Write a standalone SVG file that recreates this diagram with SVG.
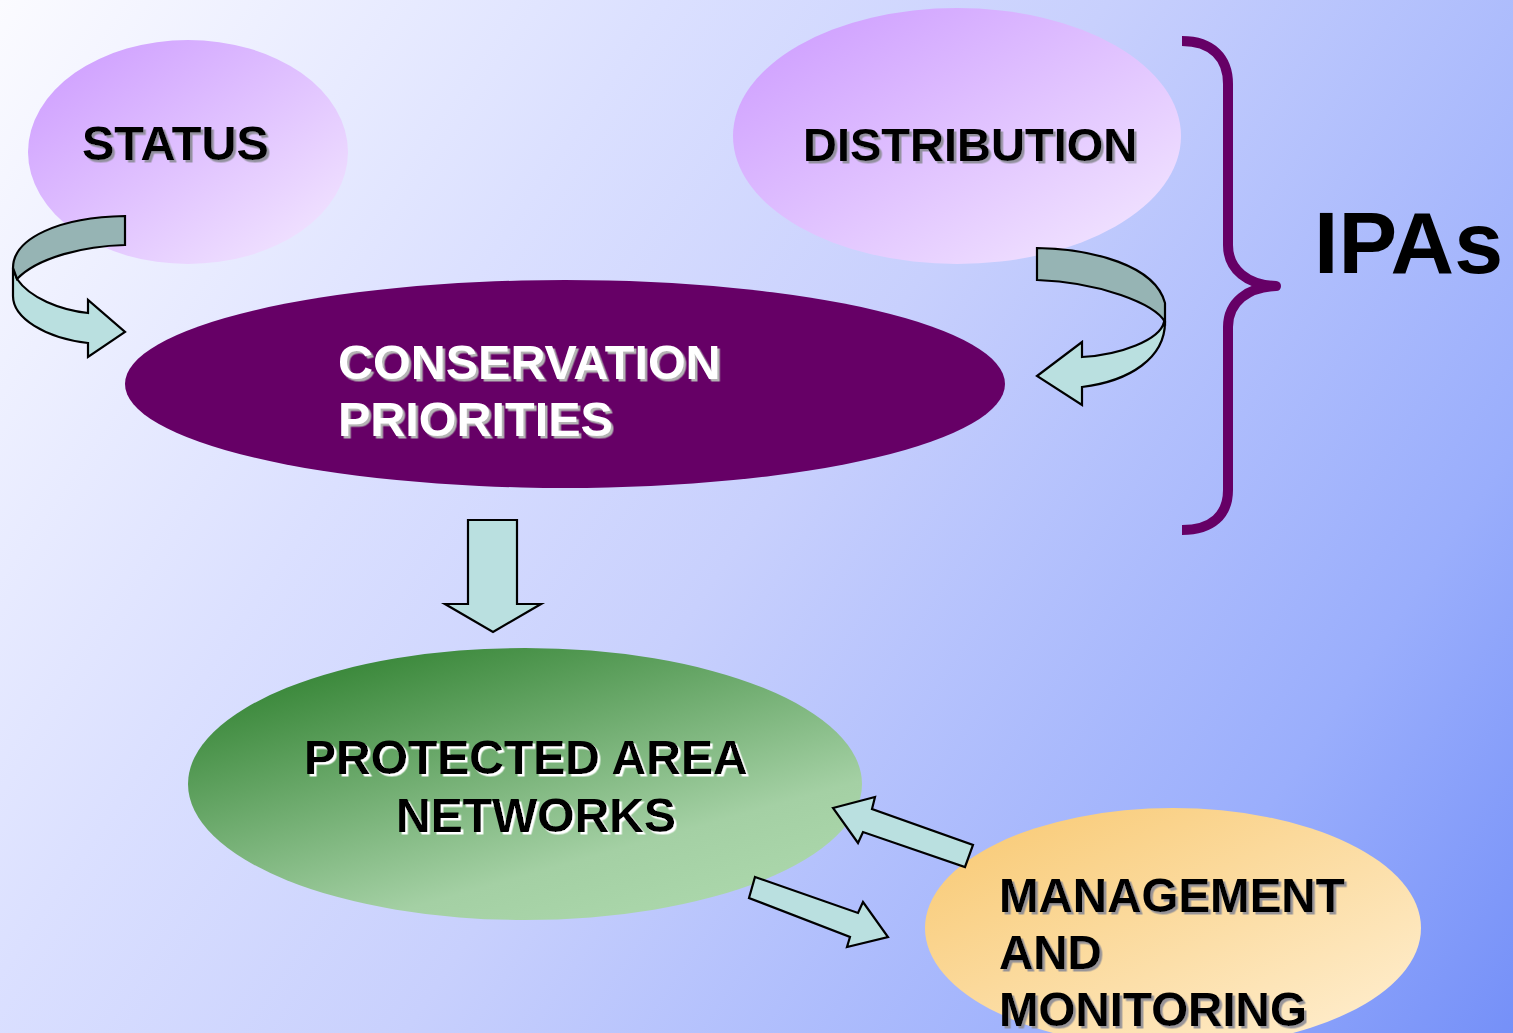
<svg xmlns="http://www.w3.org/2000/svg" width="1513" height="1033" viewBox="0 0 1513 1033">
<defs>
<linearGradient id="bg" gradientUnits="userSpaceOnUse" x1="0" y1="0" x2="1513" y2="1033">
<stop offset="0" stop-color="#fbfbff"/>
<stop offset="0.3" stop-color="#dbe0ff"/>
<stop offset="0.5" stop-color="#c8d0fd"/>
<stop offset="0.82" stop-color="#9aaefc"/>
<stop offset="1" stop-color="#7590f8"/>
</linearGradient>
<linearGradient id="lilac" x1="0" y1="0" x2="1" y2="1">
<stop offset="0" stop-color="#cc99ff"/>
<stop offset="1" stop-color="#f4eaff"/>
</linearGradient>
<linearGradient id="green" x1="0.1" y1="0" x2="0.8" y2="1">
<stop offset="0" stop-color="#2a7d2a"/>
<stop offset="0.75" stop-color="#a4d0a4"/>
<stop offset="1" stop-color="#acd8ac"/>
</linearGradient>
<linearGradient id="orange" x1="0" y1="0" x2="1" y2="1">
<stop offset="0" stop-color="#f8c870"/>
<stop offset="1" stop-color="#fff0d4"/>
</linearGradient>
<filter id="shGray" x="-5%" y="-20%" width="115%" height="150%">
<feDropShadow dx="2.5" dy="2.5" stdDeviation="0.3" flood-color="#8c8c96" flood-opacity="0.9"/>
</filter>
<filter id="shLight" x="-5%" y="-20%" width="115%" height="150%">
<feDropShadow dx="2.5" dy="2.5" stdDeviation="0.3" flood-color="#b4b4b4" flood-opacity="1"/>
</filter>
<filter id="shWhite" x="-5%" y="-20%" width="115%" height="150%">
<feDropShadow dx="2.5" dy="2.5" stdDeviation="0.3" flood-color="#ffffff" flood-opacity="1"/>
</filter>
<style>
.t{font-family:"Liberation Sans",Arial,sans-serif;font-weight:bold;font-size:47px;}
.blk{fill:#000;filter:url(#shGray);}
.wht{fill:#fff;filter:url(#shLight);}
.grn{fill:#000;filter:url(#shWhite);}
.arr{stroke:#000;stroke-width:2.2;stroke-linejoin:miter;}
.lt{fill:#bae0e0;}
.dk{fill:#96b4b4;}
</style>
</defs>
<rect x="0" y="0" width="1513" height="1033" fill="url(#bg)"/>

<g id="status">
<ellipse cx="188" cy="152" rx="160" ry="112" fill="url(#lilac)"/>
<text class="t blk" x="82" y="160" style="font-size:48.5px">STATUS</text>
</g>

<g id="distribution">
<ellipse cx="957" cy="136" rx="224" ry="128" fill="url(#lilac)"/>
<text class="t blk" x="803" y="161">DISTRIBUTION</text>
</g>

<g id="conservation">
<ellipse cx="565" cy="384" rx="440" ry="104" fill="#660066"/>
<text class="t wht" x="338" y="379" style="font-size:48.5px">CONSERVATION</text>
<text class="t wht" x="338" y="436" style="font-size:48.5px">PRIORITIES</text>
</g>

<g id="protected">
<ellipse cx="525" cy="784" rx="337" ry="136" fill="url(#green)"/>
<text class="t grn" x="304" y="774" style="font-size:48px">PROTECTED AREA</text>
<text class="t grn" x="396" y="832" style="font-size:48px">NETWORKS</text>
</g>

<g id="management">
<ellipse cx="1173" cy="928" rx="248" ry="120" fill="url(#orange)"/>
<text class="t blk" x="999" y="912" style="font-size:47.5px">MANAGEMENT</text>
<text class="t blk" x="999" y="969" style="font-size:47.5px">AND</text>
<text class="t blk" x="999" y="1026" style="font-size:47.5px">MONITORING</text>
</g>

<g id="ipas">
<path d="M1182,41 C1212,41 1228,58 1228,84 L1228,245 C1228,270 1248,285 1276,286 C1248,287 1228,302 1228,327 L1228,490 C1228,515 1212,530 1182,530" fill="none" stroke="#660066" stroke-width="10" stroke-linecap="butt" stroke-linejoin="round"/>
<text class="t" x="1314" y="273" style="font-size:88px" fill="#000">IPAs</text>
</g>

<g id="connectors">
<path class="arr lt" d="M17,279 C30,298 60,310 88,313 L88,300 L125,332 L88,357 L88,343 C45,338 13,318 13,296 L13,268 Z"/>
<path class="arr dk" d="M125,216 L125,245 C85,246 38,257 17,279 L13,268 C13,238 60,217 125,216 Z"/>
<path class="arr lt" d="M1164,322 C1160,340 1120,355 1082,357 L1082,342 L1037,376 L1082,405 L1082,387 C1130,381 1165,358 1165,322 Z"/>
<path class="arr dk" d="M1037,248 C1092,249 1155,265 1165,303 L1165,322 C1155,304 1100,282 1037,280 Z"/>
<path class="arr lt" d="M468,520 L517,520 L517,604 L541,604 L493,632 L445,604 L468,604 Z"/>
<path class="arr lt" d="M833,808 L875,797 L872,809 L973,845 L965,867 L863,832 L858,843 Z"/>
<path class="arr lt" d="M755,877 L858,913 L863,902 L888,937 L847,947 L850,937 L749,898 Z"/>
</g>
</svg>
